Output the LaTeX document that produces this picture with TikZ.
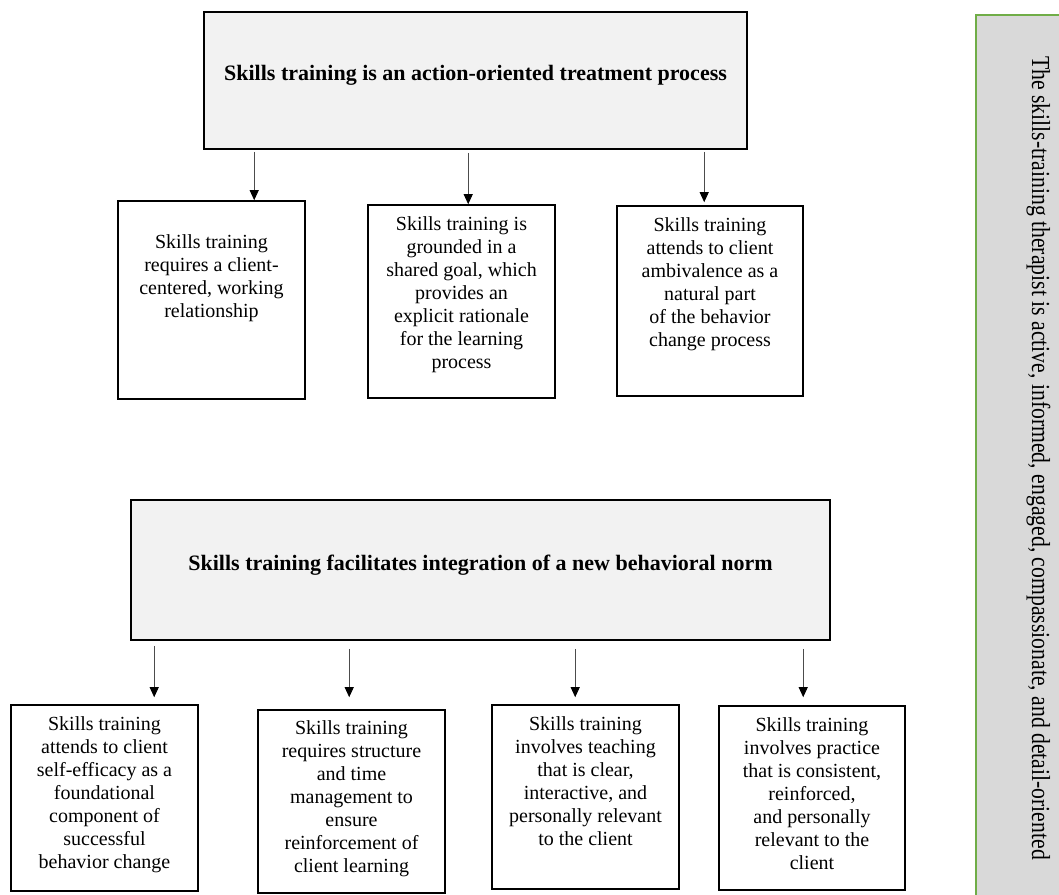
\documentclass[tikz,border=0pt]{standalone}
\usepackage{fontspec}
\setmainfont{Liberation Serif}
\usetikzlibrary{arrows.meta,positioning}
\definecolor{boxgray}{HTML}{F2F2F2}
\definecolor{sidegray}{HTML}{D9D9D9}
\definecolor{sidegreen}{HTML}{70AD47}
\tikzset{
  bigbox/.style={draw=black,line width=1.6pt,fill=boxgray,inner sep=0pt},
  smallbox/.style={draw=black,line width=1.6pt,fill=white,inner sep=0pt},
  headtext/.style={font=\fontsize{22}{26}\selectfont\bfseries,inner sep=0pt},
  bodytext/.style={font=\fontsize{20}{23}\selectfont,align=center,inner sep=0pt},
  downarrow/.style={draw=black!70,line width=0.8pt,-{Triangle[width=9pt,length=10pt,color=black]}}
}

\begin{document}
\begin{tikzpicture}[x=1pt,y=-1pt]
\useasboundingbox (0,0) rectangle (1059,894);

\node[draw=sidegreen,line width=1.5pt,fill=sidegray,inner sep=0pt,
      minimum width=95pt,minimum height=890pt,anchor=north west] (side) at (975,14) {};
\node[font=\fontsize{26}{30}\selectfont,rotate=-90,anchor=base,inner sep=0pt] (sidetext) at (1032,458)
  {\scalebox{0.835}[1]{The skills-training therapist is active, informed, engaged, compassionate, and detail-oriented}};

\node[bigbox,minimum width=543pt,minimum height=137pt] (act) at (475.5,80.5) {};
\node[headtext] (acttitle) at ([yshift=5pt]act.center) {Skills training is an action-oriented treatment process};

\node[smallbox,minimum width=187pt,minimum height=198pt] (client) at (211.5,300) {};
\node[bodytext,below=34pt of client.north] (clienttext)
  {Skills training\\requires a client-\\centered, working\\relationship};
\node[smallbox,minimum width=187pt,minimum height=193pt] (goal) at (461.5,301.5) {};
\node[bodytext,below=12pt of goal.north] (goaltext)
  {Skills training is\\grounded in a\\shared goal, which\\provides an\\explicit rationale\\for the learning\\process};
\node[smallbox,minimum width=186pt,minimum height=190pt] (ambiv) at (710,301) {};
\node[bodytext,below=12pt of ambiv.north] (ambivtext)
  {Skills training\\attends to client\\ambivalence as a\\natural part\\of the behavior\\change process};

\coordinate (a1) at ([xshift=51pt,yshift=-2pt]act.south west);
\coordinate (a2) at ([xshift=265pt,yshift=-3pt]act.south west);
\coordinate (a3) at ([xshift=501pt,yshift=-2pt]act.south west);
\draw[downarrow] (a1) -- (a1 |- client.north);
\draw[downarrow] (a2) -- (a2 |- goal.north);
\draw[downarrow,shorten >=3pt] (a3) -- (a3 |- ambiv.north);

\node[bigbox,minimum width=699pt,minimum height=140pt] (integ) at (480.5,570) {};
\node[headtext] (integtitle) at ([yshift=5pt]integ.center) {Skills training facilitates integration of a new behavioral norm};

\node[smallbox,minimum width=187pt,minimum height=186pt] (efficacy) at (104.5,798) {};
\node[bodytext,below=12pt of efficacy.north] (efficacytext)
  {Skills training\\attends to client\\self-efficacy as a\\foundational\\component of\\successful\\behavior change};
\node[smallbox,minimum width=187pt,minimum height=183pt] (structure) at (351.5,801.5) {};
\node[bodytext,below=11pt of structure.north] (structuretext)
  {Skills training\\requires structure\\and time\\management to\\ensure\\reinforcement of\\client learning};
\node[smallbox,minimum width=187pt,minimum height=184pt] (teaching) at (585.5,797) {};
\node[bodytext,below=12pt of teaching.north] (teachingtext)
  {Skills training\\involves teaching\\that is clear,\\interactive, and\\personally relevant\\to the client};
\node[smallbox,minimum width=186pt,minimum height=184pt] (practice) at (812,798) {};
\node[bodytext,below=12pt of practice.north] (practicetext)
  {Skills training\\involves practice\\that is consistent,\\reinforced,\\and personally\\relevant to the\\client};

\coordinate (b1) at ([xshift=24pt,yshift=-5pt]integ.south west);
\coordinate (b2) at ([xshift=219pt,yshift=-8pt]integ.south west);
\coordinate (b3) at ([xshift=445pt,yshift=-8pt]integ.south west);
\coordinate (b4) at ([xshift=673pt,yshift=-8pt]integ.south west);
\draw[downarrow,shorten >=7pt] (b1) -- (b1 |- efficacy.north);
\draw[downarrow,shorten >=12pt] (b2) -- (b2 |- structure.north);
\draw[downarrow,shorten >=7pt] (b3) -- (b3 |- teaching.north);
\draw[downarrow,shorten >=8pt] (b4) -- (b4 |- practice.north);

\end{tikzpicture}
\end{document}
